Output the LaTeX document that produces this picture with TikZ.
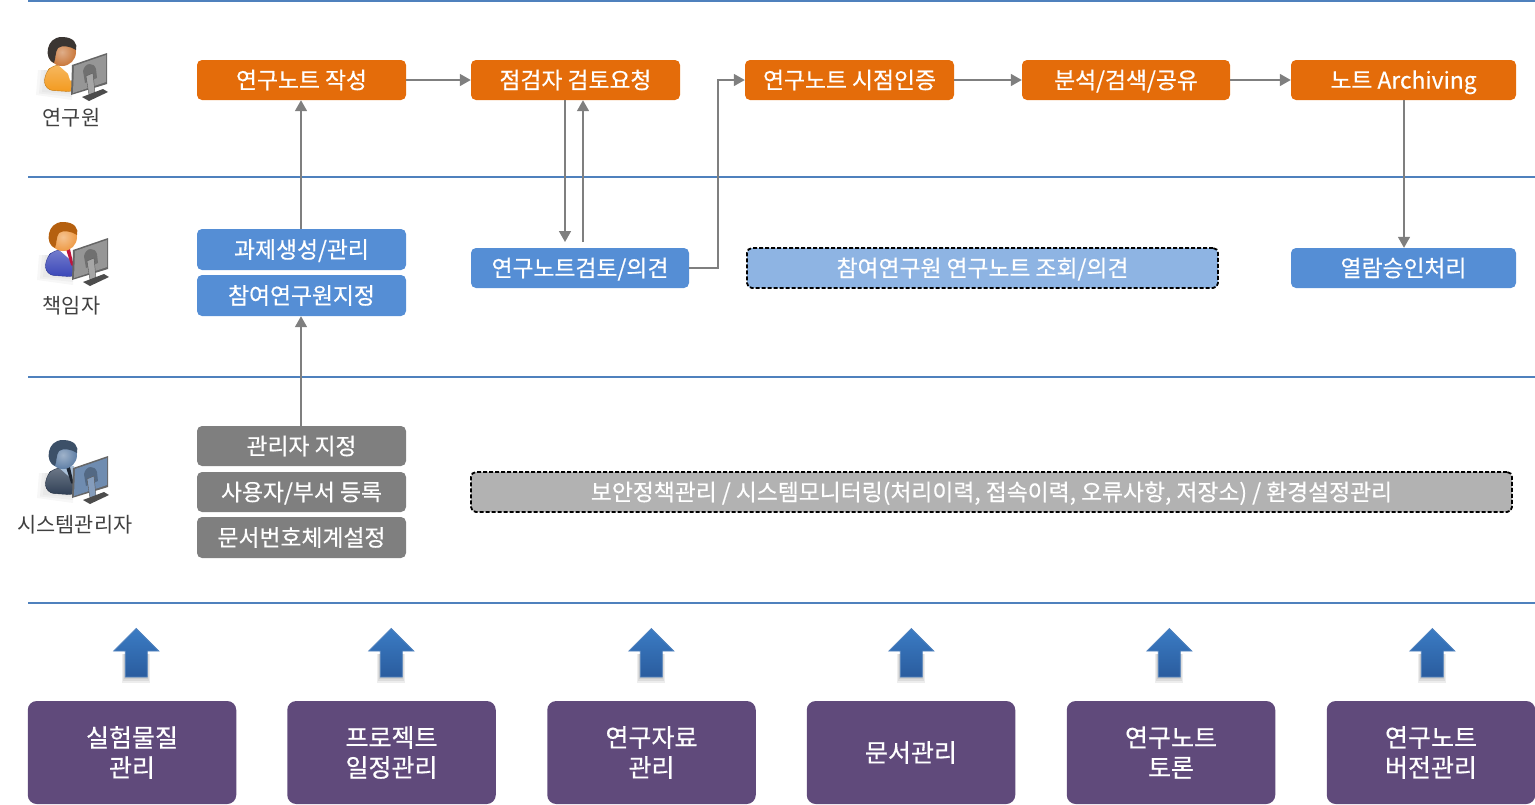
\documentclass[tikz,border=0pt]{standalone}
\usepackage{fontspec}
\setmainfont{Noto Sans CJK KR}
\newfontfamily\boxfont[FakeBold=0.5]{Noto Sans CJK KR}
\usetikzlibrary{arrows.meta}
\definecolor{orange1}{HTML}{E46C0A}
\definecolor{blue1}{HTML}{558ED5}
\definecolor{lightblue1}{HTML}{8EB4E3}
\definecolor{gray1}{HTML}{7F7F7F}
\definecolor{lightgray1}{HTML}{B2B2B2}
\definecolor{purple1}{HTML}{604A7B}
\definecolor{line1}{HTML}{4F81BD}
\definecolor{arrowtop}{HTML}{3B7CC4}
\definecolor{arrowbottom}{HTML}{2A5C9E}
\definecolor{hairdark}{HTML}{3A3532}
\definecolor{hairred}{HTML}{B5600F}
\definecolor{hairblue}{HTML}{3C5068}
\definecolor{skin}{HTML}{C9773A}
\definecolor{skinmid}{HTML}{EE9A45}
\definecolor{skinblue}{HTML}{5F7FA6}
\definecolor{coatorange}{HTML}{F39A1E}
\definecolor{coatblue}{HTML}{3A46B8}
\definecolor{coatdark}{HTML}{2F3F55}
\definecolor{tiered}{HTML}{C0143C}
\definecolor{tiedark}{HTML}{1C2430}
\definecolor{shirtblue}{HTML}{A9BFD8}
\definecolor{screengray}{HTML}{969696}
\definecolor{screenblue}{HTML}{6F8CB0}
\tikzset{
  box/.style={rounded corners=5pt, text=white, inner sep=0pt, text height=19pt, text depth=2pt, font=\boxfont\fontsize{22.8}{26}\selectfont},
  orangebox/.style={box, fill=orange1},
  bluebox/.style={box, fill=blue1},
  graybox/.style={box, fill=gray1},
  dashbox/.style={box, draw=black, line width=1.8pt, dash pattern=on 4pt off 2pt},
  purplebox/.style={rounded corners=9pt, fill=purple1, text=white, inner sep=0pt, align=center, font=\boxfont\fontsize{25}{30}\selectfont},
  rolelabel/.style={text=black!75, inner sep=0pt, font=\fontsize{20.8}{24}\selectfont},
  flow/.style={draw=gray1, line width=1.6pt, -{Triangle[length=11pt,width=12pt]}},
  rowline/.style={draw=line1, line width=1.4pt}
}
% #1 shift, #2 hair, #3 face, #4 jacket, #5 shirt, #6 tie, #7 screen
\newcommand{\personicon}[7]{
\begin{scope}[shift={#1}]
\foreach \s in {0,3,6}
{
    \fill[black, opacity=.03] (-18-\s,18)--(-20-\s,40+\s/2)--(10,42+\s)--(10,18)--cycle;
}
\shade[top color=#4!70!white, bottom color=#4, draw=#4!80!black, rounded corners=8pt] (-17,38)--(-18,22)--(-8,12)--(12,14)--(14,40)--cycle;
\fill[#5] (-6,11)--(11,11)--(11,26)--cycle;
\fill[#6] (3,12)--(7,12)--(11,30)--(8,28)--cycle;
\shade[inner color=#3!60!white, outer color=#3] (0,0) circle (14);
\fill[#2] (-8,11) .. controls (-18,8) and (-17,-15) .. (0,-15) .. controls (12,-15) and (16,-8) .. (14,-2) .. controls (8,-6) and (0,-7) .. (-4,-4) .. controls (-7,0) and (-6,6) .. (-8,11) -- cycle;
\fill[black!60] (10,13)--(45,1)--(45,32)--(9,43)--cycle;
\fill[#7] (12,14)--(44,3)--(44,30)--(11,41)--cycle;
\fill[#7!75!black] (21,19) .. controls (23,10) and (32,10) .. (34,17) -- (35,26) -- (23,31) -- cycle;
\fill[#7!85!white, draw=black!65] (24,24)--(31,21)--(33,41)--(27,43)--cycle;
\fill[black!70] (20,45)--(41,37)--(46,40)--(27,49)--cycle;
\end{scope}
}
\begin{document}
\begin{tikzpicture}[x=1pt, y=-1pt]
\useasboundingbox (0,0) rectangle (1535,804);

% row lines
\foreach \y/\rowname in {1/rowa,177/rowb,377/rowc,603/rowd}
{
    \draw[rowline] (28,\y)coordinate(\rowname west)--(1535,\y)coordinate(\rowname east);
}

% people
\personicon{(62,52)}{hairdark}{skin}{coatorange}{white}{white}{screengray}
\personicon{(63,237)}{hairred}{skinmid}{coatblue}{white}{tiered}{screengray}
\personicon{(63,455)}{hairblue}{skinblue}{coatdark}{shirtblue}{tiedark}{screenblue}
\node[rolelabel] (researcher) at (71.5,118) {연구원};
\node[rolelabel] (manager) at (71.5,305.5) {책임자};
\node[rolelabel] (sysadmin) at (75,524.5) {시스템관리자};

% researcher row
\node[orangebox, minimum width=209pt, minimum height=40pt] (write) at (301.5,80) {연구노트 작성};
\node[orangebox, minimum width=209pt, minimum height=40pt] (request) at (575.5,80) {점검자 검토요청};
\node[orangebox, minimum width=209pt, minimum height=40pt] (certify) at (849.5,80) {연구노트 시점인증};
\node[orangebox, minimum width=208pt, minimum height=40pt] (search) at (1126,80) {분석/검색/공유};
\node[orangebox, minimum width=225pt, minimum height=40pt] (archive) at (1403.5,80) {노트 Archiving};

% manager row
\node[bluebox, minimum width=209pt, minimum height=41pt] (project) at (301.5,249.5) {과제생성/관리};
\node[bluebox, minimum width=209pt, minimum height=41pt] (member) at (301.5,295.5) {참여연구원지정};
\node[bluebox, minimum width=218pt, minimum height=40pt] (review) at (580,268) {연구노트검토/의견};
\node[dashbox, fill=lightblue1, minimum width=471pt, minimum height=40pt] (browse) at (982.5,268) {참여연구원 연구노트 조회/의견};
\node[bluebox, minimum width=225pt, minimum height=40pt] (approve) at (1403.5,268) {열람승인처리};

% admin row
\node[graybox, minimum width=209pt, minimum height=40pt] (assign) at (301.5,446) {관리자 지정};
\node[graybox, minimum width=209pt, minimum height=40pt] (dept) at (301.5,492) {사용자/부서 등록};
\node[graybox, minimum width=209pt, minimum height=41pt] (docno) at (301.5,537.5) {문서번호체계설정};
\node[dashbox, fill=lightgray1, minimum width=1041pt, minimum height=40pt] (security) at (991.5,492) {보안정책관리 / 시스템모니터링(처리이력, 접속이력, 오류사항, 저장소) / 환경설정관리};

% connectors
\coordinate (downend) at (565,242);
\coordinate (upstart) at (583,242);
\coordinate (elbow) at (718,80);
\coordinate (leftx) at (301,0);
\coordinate (rightx) at (1404,0);
\draw[flow] (write)--(request);
\draw[flow] (certify)--(search);
\draw[flow] (search)--(archive);
\draw[flow] (project.north -| leftx)--(write.south -| leftx);
\draw[flow] (assign.north -| leftx)--(member.south -| leftx);
\draw[flow] (request.south -| downend)--(downend);
\draw[flow] (upstart)--(request.south -| upstart);
\draw[flow] (review.east)-|(elbow)--(certify.west);
\draw[flow] (archive.south -| rightx)--(approve.north -| rightx);

% bottom boxes and arrows
\foreach \x/\nodename/\boxtext/\arrowx in {132/lab/{실험물질\\관리}/136.3, 391.5/schedule/{프로젝트\\일정관리}/391.3, 651.5/data/{연구자료\\관리}/651.3, 911/docs/{문서관리}/911.3, 1171/forum/{연구노트\\토론}/1169.3, 1431/version/{연구노트\\버전관리}/1432.3}
{
    \node[purplebox, minimum width=208.5pt, minimum height=103pt] (\nodename) at (\x,752.5) {\boxtext};
    \foreach \s in {6,4,2}
    {
        \fill[black, opacity=.07] (\arrowx-11-\s/2,654)--(\arrowx-11-\s/2,677+\s)--(\arrowx+11+\s/2,677+\s)--(\arrowx+11+\s/2,654)--cycle;
    }
    \shade[top color=arrowtop, bottom color=arrowbottom, draw=line1, line width=.8pt] (\arrowx,628.5)--(\arrowx+22.5,651)--(\arrowx+11,651)--(\arrowx+11,677)--(\arrowx-11,677)--(\arrowx-11,651)--(\arrowx-22.5,651)--cycle;
}

\end{tikzpicture}
\end{document}
